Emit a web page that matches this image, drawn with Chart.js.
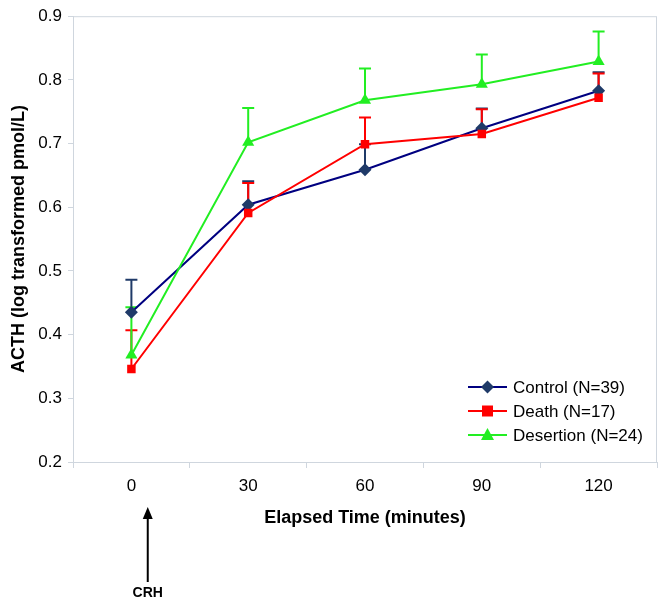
<!DOCTYPE html>
<html>
<head>
<meta charset="utf-8">
<script src="https://cdn.jsdelivr.net/npm/chart.js@4/dist/chart.umd.min.js"></script>
<style>
  html, body { margin: 0; padding: 0; background: #fff; }
  #wrap { width: 665px; height: 603px; }
</style>
</head>
<body>
<div id="wrap"><canvas id="chart"></canvas></div>
<script>
// Elapsed time categories (minutes)
const categories = ["0", "30", "60", "90", "120"];

// Mean ACTH per group
const controlMean = [0.435, 0.604, 0.659, 0.724, 0.783];
const deathMean = [0.346, 0.591, 0.699, 0.715, 0.772];
const desertionMean = [0.368, 0.702, 0.768, 0.793, 0.829];

// Upper error (SE) per group
const controlErr = [0.051, 0.037, 0.040, 0.031, 0.029];
const deathErr = [0.061, 0.047, 0.042, 0.039, 0.038];
const desertionErr = [0.075, 0.054, 0.050, 0.047, 0.047];

const legendLabels = ["Control (N=39)", "Death (N=17)", "Desertion (N=24)"];
const yTicks = [0.2, 0.3, 0.4, 0.5, 0.6, 0.7, 0.8, 0.9];

const FONT = "'Liberation Sans', Arial, sans-serif";

// error bars go under the markers, only the upper half is shown
const errorBars = {
  id: "errorBars",
  beforeDatasetsDraw(chart) {
    const { ctx } = chart;
    const yScale = chart.scales.y;
    chart.data.datasets.forEach((ds, di) => {
      const meta = chart.getDatasetMeta(di);
      ctx.save();
      ctx.strokeStyle = ds.errColor;
      ctx.lineWidth = 2;
      meta.data.forEach((pt, i) => {
        const yTop = yScale.getPixelForValue(ds.data[i] + ds.err[i]);
        ctx.beginPath();
        ctx.moveTo(pt.x, pt.y);
        ctx.lineTo(pt.x, yTop);
        ctx.moveTo(pt.x - 6, yTop);
        ctx.lineTo(pt.x + 6, yTop);
        ctx.stroke();
      });
      ctx.restore();
    });
  },
};

function drawMarker(ctx, style, color, x, y) {
  ctx.fillStyle = color;
  ctx.beginPath();
  if (style === "rectRot") {
    ctx.moveTo(x, y - 6.5);
    ctx.lineTo(x + 6.5, y);
    ctx.lineTo(x, y + 6.5);
    ctx.lineTo(x - 6.5, y);
  } else if (style === "rect") {
    ctx.rect(x - 5.5, y - 5.5, 11, 11);
  } else {
    ctx.moveTo(x, y - 7);
    ctx.lineTo(x + 6.5, y + 5);
    ctx.lineTo(x - 6.5, y + 5);
  }
  ctx.closePath();
  ctx.fill();
}

// frame, legend inside the plot, CRH arrow under the x axis
const extras = {
  id: "extras",
  beforeDatasetsDraw(chart) {
    const { ctx, chartArea } = chart;
    ctx.save();
    ctx.strokeStyle = "#cfd6de";
    ctx.lineWidth = 1;
    ctx.strokeRect(chartArea.left + 0.5, chartArea.top + 0.5,
      chartArea.right - chartArea.left - 1, chartArea.bottom - chartArea.top);
    ctx.restore();
  },
  afterDraw(chart) {
    const { ctx, chartArea } = chart;
    ctx.save();
    // legend
    const lx = chartArea.right - 189;
    let ly = chartArea.bottom - 75;
    chart.data.datasets.forEach((ds) => {
      ctx.strokeStyle = ds.borderColor;
      ctx.lineWidth = 2;
      ctx.beginPath();
      ctx.moveTo(lx, ly);
      ctx.lineTo(lx + 39, ly);
      ctx.stroke();
      drawMarker(ctx, ds.pointStyle, ds.pointBackgroundColor, lx + 19.5, ly);
      ctx.fillStyle = "#000";
      ctx.font = "17px " + FONT;
      ctx.textBaseline = "middle";
      ctx.textAlign = "left";
      ctx.fillText(ds.label, lx + 45, ly + 1);
      ly += 24;
    });

    // CRH arrow
    const ax = chart.scales.x.getPixelForValue(0.14);
    const tip = chartArea.bottom + 45;
    ctx.strokeStyle = "#000";
    ctx.fillStyle = "#000";
    ctx.lineWidth = 2;
    ctx.beginPath();
    ctx.moveTo(ax, tip + 10);
    ctx.lineTo(ax, tip + 75);
    ctx.stroke();
    ctx.beginPath();
    ctx.moveTo(ax, tip);
    ctx.lineTo(ax + 5, tip + 12);
    ctx.lineTo(ax - 5, tip + 12);
    ctx.closePath();
    ctx.fill();
    ctx.font = "bold 14px " + FONT;
    ctx.textAlign = "center";
    ctx.textBaseline = "middle";
    ctx.fillText("CRH", ax, tip + 86);
    ctx.restore();
  },
};

new Chart(document.getElementById("chart"), {
  type: "line",
  data: {
    labels: categories,
    datasets: [
      {
        label: legendLabels[0],
        data: controlMean,
        err: controlErr,
        errColor: "#1f3a68",
        borderColor: "#000080",
        pointBackgroundColor: "#1f3a68",
        pointBorderColor: "#1f3a68",
        pointStyle: "rectRot",
        pointRadius: 6.5,
        order: 3,
      },
      {
        label: legendLabels[1],
        data: deathMean,
        err: deathErr,
        errColor: "#ff0000",
        borderColor: "#ff0000",
        pointBackgroundColor: "#ff0000",
        pointBorderColor: "#ff0000",
        pointStyle: "rect",
        pointRadius: 6,
        order: 2,
      },
      {
        label: legendLabels[2],
        data: desertionMean,
        err: desertionErr,
        errColor: "#22ee22",
        borderColor: "#22ee22",
        pointBackgroundColor: "#22ee22",
        pointBorderColor: "#22ee22",
        pointStyle: "triangle",
        pointRadius: 7,
        order: 1,
      },
    ],
  },
  options: {
    responsive: true,
    maintainAspectRatio: false,
    animation: false,
    layout: { padding: { top: 15, right: 8, bottom: 66, left: 0 } },
    elements: { line: { borderWidth: 2, tension: 0 }, point: { borderWidth: 0 } },
    plugins: { legend: { display: false }, tooltip: { enabled: false } },
    scales: {
      x: {
        type: "category",
        offset: true,
        grid: { offset: true, drawOnChartArea: false, color: "#cfd6de", tickLength: 6 },
        border: { color: "#cfd6de" },
        ticks: { color: "#000", font: { family: FONT, size: 17 }, padding: 8 },
        title: {
          display: true,
          text: "Elapsed Time (minutes)",
          color: "#000",
          font: { family: FONT, size: 18, weight: "bold" },
          padding: { bottom: 8 },
        },
        afterFit(scale) { scale.height = 75; },
      },
      y: {
        min: 0.2,
        max: 0.9,
        afterBuildTicks(scale) { scale.ticks = yTicks.map((v) => ({ value: v })); },
        grid: { drawOnChartArea: false, color: "#cfd6de", tickLength: 5 },
        border: { color: "#cfd6de" },
        ticks: {
          color: "#000",
          font: { family: FONT, size: 17 },
          padding: 6,
          callback: (v) => v.toFixed(1),
        },
        title: {
          display: true,
          text: "ACTH (log transformed pmol/L)",
          color: "#000",
          font: { family: FONT, size: 18, weight: "bold" },
          padding: { top: 8 },
        },
        afterFit(scale) { scale.width = 73; },
      },
    },
  },
  plugins: [errorBars, extras],
});
</script>
</body>
</html>
